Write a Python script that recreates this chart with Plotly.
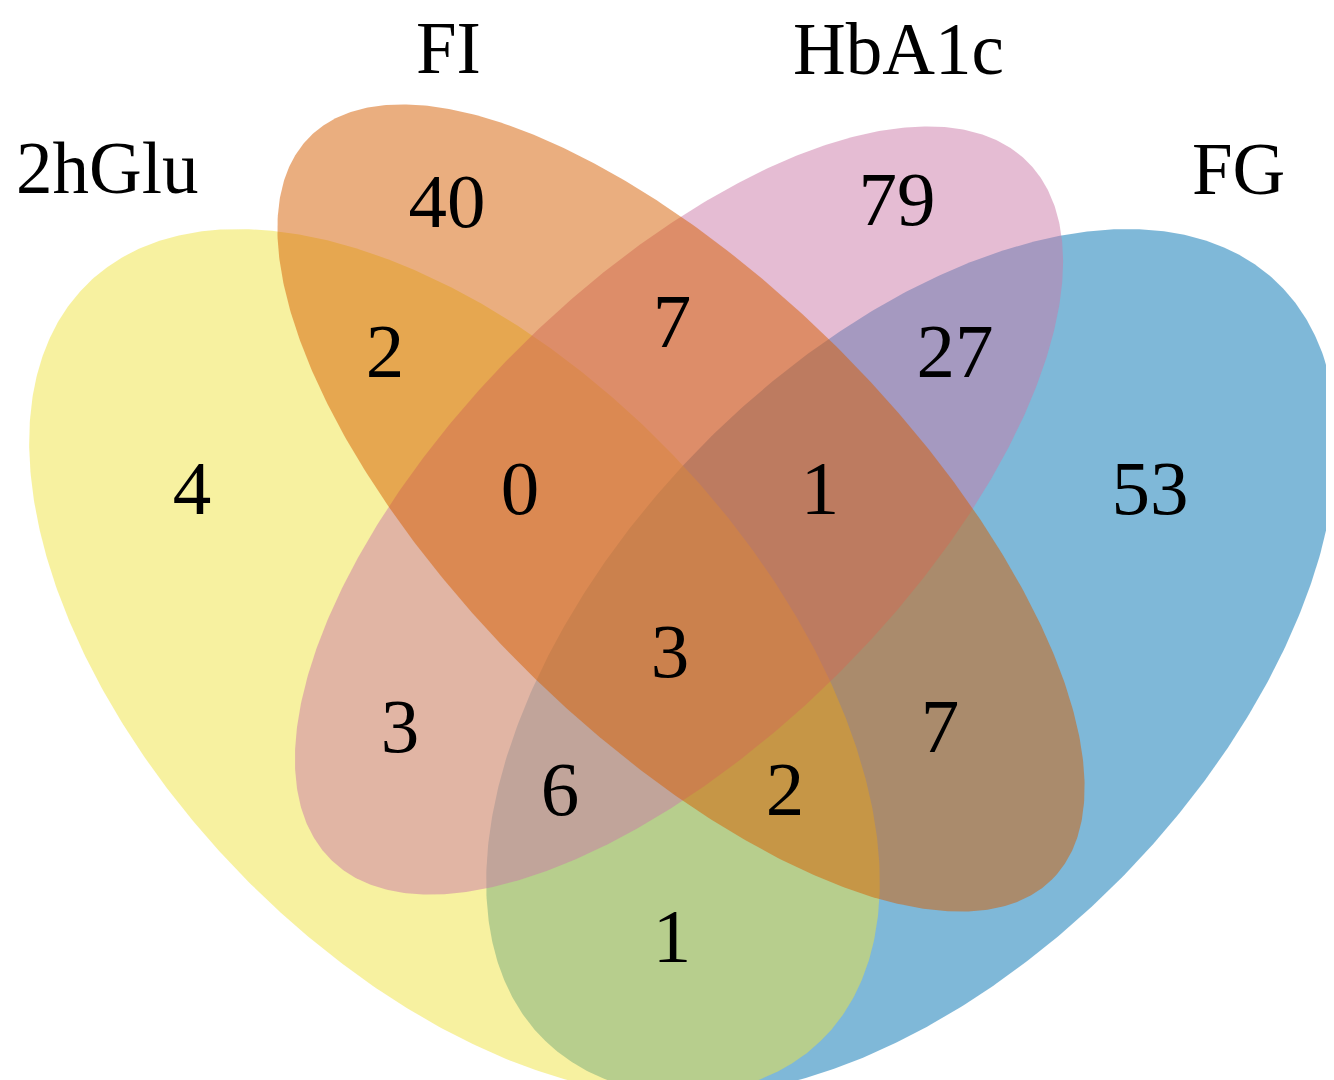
import numpy as np
import plotly.graph_objects as go

# ---- data ----
set_names = ["2hGlu", "FI", "HbA1c", "FG"]
set_colors = ["#F0E442", "#D55E00", "#CC79A7", "#0072B2"]

region_sets = ["2hGlu", "FI", "HbA1c", "FG",
               "2hGlu&FI", "FI&HbA1c", "HbA1c&FG", "2hGlu&HbA1c", "FI&FG", "2hGlu&FG",
               "2hGlu&FI&HbA1c", "FI&HbA1c&FG", "2hGlu&HbA1c&FG", "2hGlu&FI&FG",
               "2hGlu&FI&HbA1c&FG"]
region_counts = [4, 40, 79, 53,
                 2, 7, 27, 3, 7, 1,
                 0, 1, 6, 2,
                 3]

# ---- layout geometry (pixel space, y down) ----
W, H = 1334, 1080
# ellipse: centre x, centre y, semi-major, semi-minor, rotation (deg)
ellipse_geom = {
    "2hGlu": (446.5, 654.0, 527.0, 301.0, 46.0),
    "FG":    (903.5, 654.0, 527.0, 301.0, 134.0),
    "FI":    (673.0, 500.0, 525.0, 224.0, 45.0),
    "HbA1c": (671.0, 502.5, 493.0, 228.0, 135.0),
}
draw_order = ["FG", "2hGlu", "HbA1c", "FI"]
fill_alpha = 0.5

# set labels: x centre and reference y (pixels)
set_label_pos = {"2hGlu": (99, 187), "FI": (440, 67), "HbA1c": (890, 68), "FG": (1230, 188)}
region_label_pos = [(184, 487), (439, 200), (889, 198), (1142, 487),
                    (377, 350), (664, 320), (947, 350), (392, 725), (932, 725), (664, 935),
                    (512, 487), (812, 487), (552, 788), (777, 788),
                    (662, 650)]

font_family = "Liberation Serif, Times New Roman, serif"


def rgba(hex_color, alpha):
    h = hex_color.lstrip("#")
    r, g, b = int(h[0:2], 16), int(h[2:4], 16), int(h[4:6], 16)
    return f"rgba({r},{g},{b},{alpha})"


fig = go.Figure()
t = np.linspace(0, 2 * np.pi, 721)
for name in draw_order:
    cx, cy, a, b, ang = ellipse_geom[name]
    th = np.deg2rad(ang)
    ex = cx + a * np.cos(t) * np.cos(th) - b * np.sin(t) * np.sin(th)
    ey = cy + a * np.cos(t) * np.sin(th) + b * np.sin(t) * np.cos(th)
    col = set_colors[set_names.index(name)]
    fig.add_trace(go.Scatter(x=ex, y=ey, mode="lines", fill="toself",
                             fillcolor=rgba(col, fill_alpha), line=dict(width=0),
                             hoverinfo="skip", showlegend=False, name=name))

fig.add_trace(go.Scatter(
    x=[p[0] for p in region_label_pos], y=[p[1] for p in region_label_pos],
    mode="text", text=[str(v) for v in region_counts], textposition="middle center",
    textfont=dict(family=font_family, size=77, color="black"),
    hoverinfo="skip", showlegend=False, cliponaxis=False))

label_size = 73
for n in set_names:
    lx, base = set_label_pos[n]
    fig.add_annotation(x=lx, y=base, xref="x", yref="y", text=n, showarrow=False,
                       xanchor="center", yanchor="bottom", yshift=-0.22 * label_size,
                       font=dict(family=font_family, size=label_size, color="black"))

fig.update_layout(
    width=W, height=H, margin=dict(l=0, r=0, t=0, b=0),
    paper_bgcolor="white", plot_bgcolor="white",
    xaxis=dict(range=[0, W], visible=False, fixedrange=True),
    yaxis=dict(range=[H, 0], visible=False, fixedrange=True),
)
fig.write_html("out.html", config={"displayModeBar": False})
